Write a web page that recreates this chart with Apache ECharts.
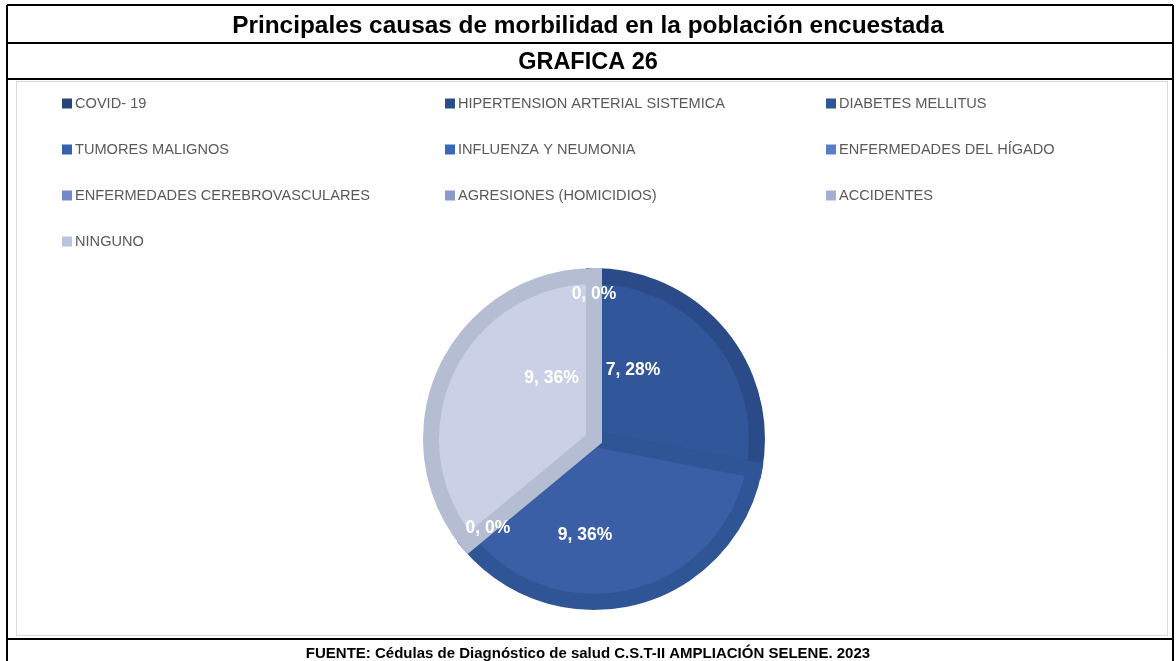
<!DOCTYPE html>
<html>
<head>
<meta charset="utf-8">
<script src="https://cdn.jsdelivr.net/npm/echarts@6/dist/echarts.min.js"></script>
<style>
  html, body { margin: 0; padding: 0; background: #fff; }
  #chart { width: 1176px; height: 661px; }
</style>
</head>
<body>
<div id="chart"></div>
<script>
// Causes of morbidity reported in the survey (counts of respondents)
const categories = [
  'COVID- 19',
  'HIPERTENSION ARTERIAL SISTEMICA',
  'DIABETES MELLITUS',
  'TUMORES MALIGNOS',
  'INFLUENZA Y NEUMONIA',
  'ENFERMEDADES DEL HÍGADO',
  'ENFERMEDADES CEREBROVASCULARES',
  'AGRESIONES (HOMICIDIOS)',
  'ACCIDENTES',
  'NINGUNO'
];
const values = [0, 7, 9, 0, 0, 0, 0, 0, 0, 9];

const chartTitle = 'Principales causas de morbilidad en la población encuestada';
const chartSubtitle = 'GRAFICA 26';
const sourceNote = 'FUENTE: Cédulas de Diagnóstico de salud C.S.T-II AMPLIACIÓN SELENE. 2023';

// Monochromatic blue palette: legend swatch, slice edge and slice fill
const swatchColors = ['#264478', '#2B4D8A', '#2F5597', '#3461AA', '#3A68B8',
                      '#5A7EC5', '#7189C4', '#8A9BCB', '#A4AFD3', '#BCC3DD'];
const fillColors   = ['#2C4C86', '#32569A', '#3A5FA6', '#3D68B3', '#4570BC',
                      '#6786C9', '#7C93C9', '#95A5D0', '#AEB8D8', '#CAD1E6'];
const edgeColors   = ['#264478', '#2A4B88', '#2F5597', '#3461AA', '#3A68B8',
                      '#5A7EC5', '#7189C4', '#8A9BCB', '#A4AFD3', '#B5BDD3'];

// Nudges for the in-slice labels, keyed by category index
const labelNudge = {
  0: [0, -60],
  1: [-26, -15],
  2: [-30, 14],
  9: [34, -25]
};
const zeroNudge = [-41, 35];

const labelFont = '"Liberation Sans", Arial, sans-serif';
const headFont = '"Liberation Sans", Arial, sans-serif';

const pieData = categories.map((name, i) => {
  const isZero = values[i] === 0;
  return {
    name: name,
    value: values[i],
    itemStyle: {
      color: fillColors[i],
      borderColor: edgeColors[i],
      borderWidth: isZero ? 0 : 16,
      borderJoin: 'miter',
      borderMiterLimit: 10
    },
    label: {
      offset: labelNudge[i] || (isZero ? zeroNudge : [0, 0])
    }
  };
});

const legendItem = i => ({
  name: categories[i],
  itemStyle: { color: swatchColors[i], borderWidth: 0 }
});

const legendBase = {
  orient: 'vertical',
  top: 96,
  padding: 0,
  itemWidth: 10,
  itemHeight: 10,
  itemGap: 31,
  icon: 'rect',
  selectedMode: false,
  textStyle: {
    color: '#595959',
    fontSize: 14.6,
    fontFamily: labelFont,
    padding: [0, 0, 0, -2]
  }
};

const chart = echarts.init(document.getElementById('chart'), null, { renderer: 'canvas' });

chart.setOption({
  backgroundColor: '#ffffff',
  animation: false,
  title: [
    {
      text: chartTitle,
      left: 'center',
      top: 14,
      padding: [0, 0, 0, 0],
      textStyle: { fontFamily: headFont, fontSize: 24.4, fontWeight: 'bold', color: '#000' }
    },
    {
      text: chartSubtitle,
      left: 'center',
      top: 51,
      padding: [0, 0, 0, 0],
      textStyle: { fontFamily: headFont, fontSize: 23.5, fontWeight: 'bold', color: '#000' }
    },
    {
      text: sourceNote,
      left: 'center',
      top: 646,
      padding: [0, 0, 0, 0],
      textStyle: { fontFamily: headFont, fontSize: 15, fontWeight: 'bold', color: '#000' }
    }
  ],
  legend: [
    Object.assign({}, legendBase, { left: 62, data: [0, 3, 6, 9].map(legendItem) }),
    Object.assign({}, legendBase, { left: 445, data: [1, 4, 7].map(legendItem) }),
    Object.assign({}, legendBase, { left: 826, data: [2, 5, 8].map(legendItem) })
  ],
  graphic: [
    // outer table frame
    { type: 'line', shape: { x1: 7, y1: 5, x2: 1173, y2: 5 }, style: { stroke: '#000', lineWidth: 2 } },
    { type: 'line', shape: { x1: 7, y1: 5, x2: 7, y2: 661 }, style: { stroke: '#000', lineWidth: 2 } },
    { type: 'line', shape: { x1: 1173, y1: 5, x2: 1173, y2: 661 }, style: { stroke: '#000', lineWidth: 2 } },
    { type: 'line', shape: { x1: 7, y1: 43, x2: 1173, y2: 43 }, style: { stroke: '#000', lineWidth: 2 } },
    { type: 'line', shape: { x1: 7, y1: 79, x2: 1173, y2: 79 }, style: { stroke: '#000', lineWidth: 2 } },
    { type: 'line', shape: { x1: 7, y1: 639, x2: 1173, y2: 639 }, style: { stroke: '#000', lineWidth: 2 } },
    // chart area border
    { type: 'rect', shape: { x: 16.5, y: 81.5, width: 1151, height: 554 },
      style: { fill: null, stroke: '#D9D9D9', lineWidth: 1 } }
  ],
  series: [
    {
      type: 'pie',
      center: [594, 439],
      radius: [0, 163],
      startAngle: 90,
      clockwise: true,
      avoidLabelOverlap: false,
      stillShowZeroSum: true,
      legendHoverLink: false,
      label: {
        show: true,
        position: 'inside',
        color: '#ffffff',
        fontFamily: labelFont,
        fontSize: 17.5,
        fontWeight: 'bold',
        formatter: p => p.value + ', ' + Math.round(p.percent) + '%'
      },
      labelLine: { show: false },
      emphasis: { disabled: true },
      data: pieData
    }
  ]
});
</script>
</body>
</html>
